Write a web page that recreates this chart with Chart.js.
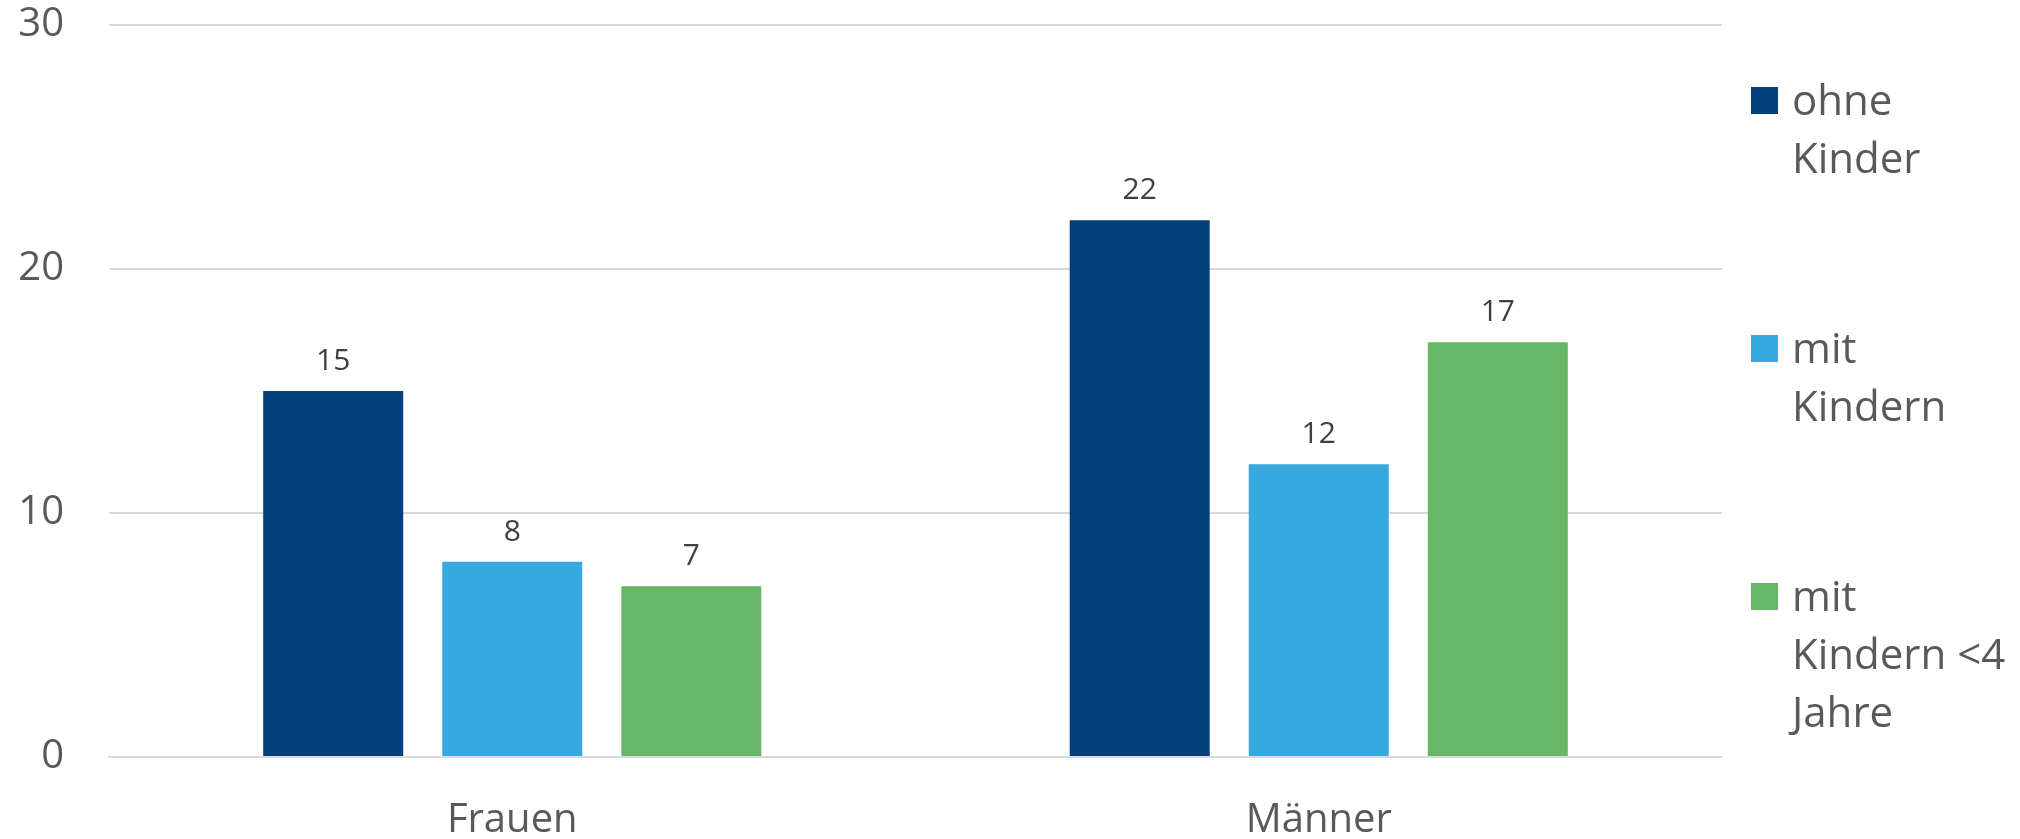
<!DOCTYPE html>
<html>
<head>
<meta charset="utf-8">
<script src="https://cdn.jsdelivr.net/npm/chart.js@4.4.1/dist/chart.umd.min.js"></script>
<style>
    html, body { margin: 0; padding: 0; background: #fff; }
</style>
</head>
<body>
<canvas id="chart" width="2020" height="839"></canvas>
<script>
const categories = ['Frauen', 'Männer'];
const seriesNames = [['ohne', 'Kinder'], ['mit', 'Kindern'], ['mit', 'Kindern <4', 'Jahre']];
const ohneKinder = [15, 22];
const mitKindern = [8, 12];
const mitKindernUnter4 = [7, 17];
const yTicks = [0, 10, 20, 30];
const seriesColors = ['#023f7c', '#38a9e0', '#68b766'];

const FONT = '"Open Sans", "Noto Sans", sans-serif';

// value labels above each bar
const barLabels = {
    id: 'barLabels',
    afterDatasetsDraw(chart) {
        const ctx = chart.ctx;
        ctx.save();
        ctx.font = '30px ' + FONT;
        ctx.fillStyle = '#404040';
        ctx.textAlign = 'center';
        ctx.textBaseline = 'alphabetic';
        chart.data.datasets.forEach((ds, i) => {
            chart.getDatasetMeta(i).data.forEach((bar, j) => {
                ctx.fillText(ds.data[j], bar.x, bar.y - 21);
            });
        });
        ctx.restore();
    }
};

// legend on the right, with wrapped labels
const sideLegend = {
    id: 'sideLegend',
    afterDraw(chart) {
        const ctx = chart.ctx;
        const x = chart.chartArea.right + 29;
        const box = 27, lineH = 58, step = 248, y0 = 87;
        ctx.save();
        ctx.font = '42px ' + FONT;
        ctx.textAlign = 'left';
        ctx.textBaseline = 'alphabetic';
        chart.data.datasets.forEach((ds, i) => {
            const top = y0 + i * step;
            ctx.fillStyle = ds.backgroundColor;
            ctx.fillRect(x, top, box, box);
            ctx.fillStyle = '#595959';
            ds.label.forEach((line, k) => {
                ctx.fillText(line, x + 41, top + 28 + k * lineH);
            });
        });
        ctx.restore();
    }
};

const chart = new Chart(document.getElementById('chart').getContext('2d'), {
    type: 'bar',
    data: {
        labels: categories,
        datasets: [
            {label: seriesNames[0], data: ohneKinder, backgroundColor: seriesColors[0]},
            {label: seriesNames[1], data: mitKindern, backgroundColor: seriesColors[1]},
            {label: seriesNames[2], data: mitKindernUnter4, backgroundColor: seriesColors[2]}
        ]
    },
    options: {
        responsive: false,
        animation: false,
        devicePixelRatio: 1,
        categoryPercentage: 0.666,
        barPercentage: 0.782,
        layout: {padding: {top: 25, right: 298, left: 0, bottom: 0}},
        plugins: {
            legend: {display: false},
            tooltip: {enabled: false}
        },
        scales: {
            x: {
                grid: {display: false},
                border: {display: true, color: '#d9d9d9', width: 2},
                ticks: {color: '#595959', font: {family: FONT, size: 40}, padding: 32},
                afterFit: scale => { scale.height = 82; }
            },
            y: {
                min: yTicks[0],
                max: yTicks[yTicks.length - 1],
                afterBuildTicks: scale => { scale.ticks = yTicks.map(v => ({value: v})); },
                grid: {color: '#d9d9d9', lineWidth: 2, drawTicks: false},
                border: {display: false},
                ticks: {color: '#595959', font: {family: FONT, size: 40}, padding: 45},
                afterFit: scale => {
                    scale.width = 109;
                    scale.paddingTop = 0;
                    scale.paddingBottom = 0;
                }
            }
        }
    },
    plugins: [barLabels, sideLegend]
});
</script>
</body>
</html>
